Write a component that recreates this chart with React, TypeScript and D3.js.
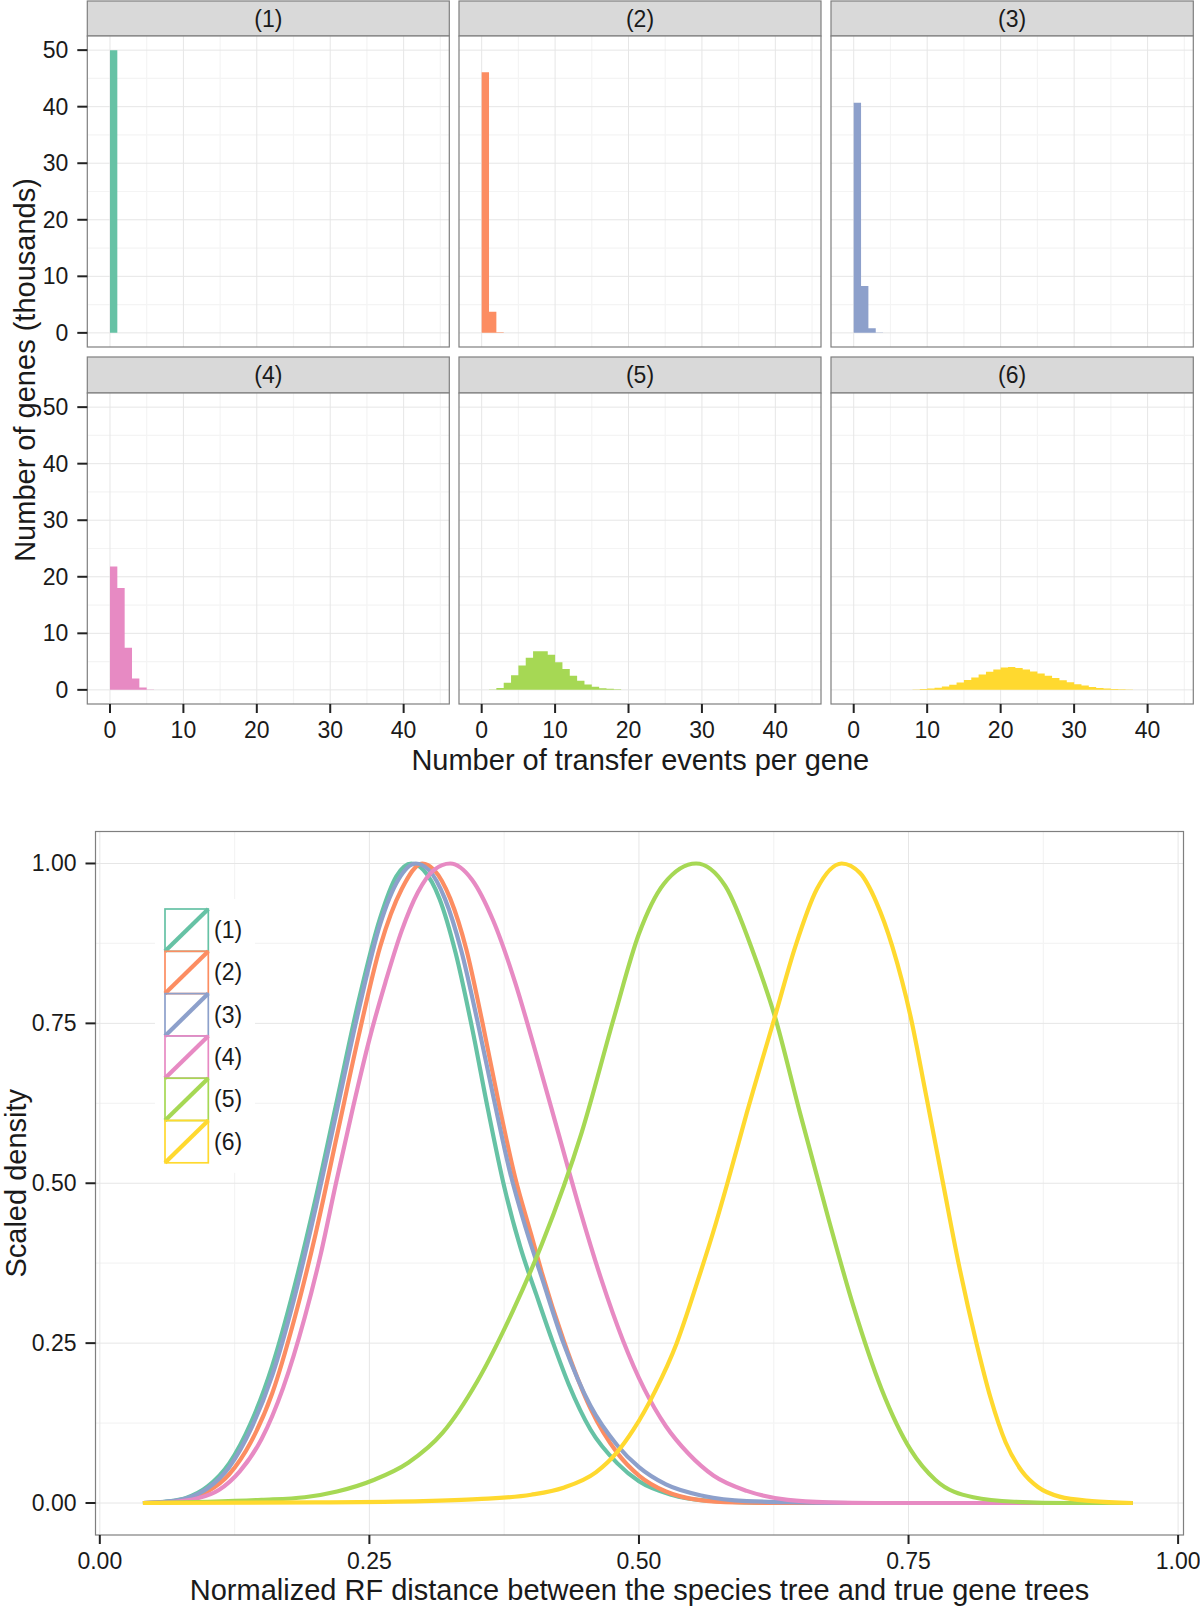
import React from 'react';
import * as d3 from 'd3';

// ---------- data ----------
const PANEL_LABELS = ['(1)', '(2)', '(3)', '(4)', '(5)', '(6)'];
const SERIES_COLORS = ['#66C2A5', '#FC8D62', '#8DA0CB', '#E78AC3', '#A6D854', '#FFD92F'];

// Number of genes (thousands) per bin [k, k+1), k = 0, 1, 2, ...
const HIST_1 = [50.0];
const HIST_2 = [46.1, 3.75, 0.12, 0.02];
const HIST_3 = [40.7, 8.3, 0.8, 0.07, 0.01];
const HIST_4 = [21.8, 18.0, 7.45, 2.0, 0.42, 0.08, 0.01];
const HIST_5 = [0.01, 0.06, 0.35, 1.24, 2.6, 4.3, 5.7, 6.85, 6.85, 6.2, 4.9, 3.7, 2.5, 1.6, 0.94, 0.53, 0.29, 0.18, 0.09, 0.04, 0.02, 0.01];
const HIST_6 = [0, 0, 0, 0, 0, 0.01, 0.02, 0.04, 0.08, 0.14, 0.22, 0.38, 0.6, 0.9, 1.3, 1.75, 2.2, 2.7, 3.2, 3.6, 3.95, 4.05, 3.85, 3.6, 3.25, 2.9, 2.5, 2.1, 1.7, 1.35, 1.0, 0.75, 0.52, 0.35, 0.23, 0.15, 0.09, 0.05, 0.03, 0.02, 0.01, 0.008, 0.006, 0.005, 0.004];

const HIST_X_TICKS = [0, 10, 20, 30, 40];
const HIST_Y_TICKS = [0, 10, 20, 30, 40, 50];

// Scaled density curves: [normalized RF distance, scaled density]
const DENSITY_1 = [[0.04, 0], [0.06, 0.002], [0.08, 0.008], [0.10, 0.026], [0.12, 0.062], [0.14, 0.125], [0.16, 0.215], [0.18, 0.335], [0.20, 0.475], [0.22, 0.63], [0.24, 0.785], [0.26, 0.915], [0.275, 0.98], [0.289, 1.0], [0.30, 0.99], [0.315, 0.945], [0.33, 0.86], [0.345, 0.745], [0.36, 0.615], [0.375, 0.495], [0.39, 0.4], [0.405, 0.325], [0.42, 0.252], [0.435, 0.185], [0.455, 0.115], [0.48, 0.062], [0.50, 0.034], [0.53, 0.013], [0.56, 0.004], [0.60, 0.001], [0.65, 0], [0.958, 0]];
const DENSITY_2 = [[0.04, 0], [0.06, 0.001], [0.08, 0.005], [0.10, 0.018], [0.12, 0.045], [0.14, 0.095], [0.16, 0.172], [0.18, 0.285], [0.20, 0.42], [0.22, 0.575], [0.24, 0.73], [0.26, 0.87], [0.28, 0.96], [0.299, 1.0], [0.31, 0.99], [0.325, 0.945], [0.34, 0.865], [0.355, 0.75], [0.37, 0.625], [0.385, 0.51], [0.40, 0.42], [0.41, 0.36], [0.43, 0.255], [0.455, 0.148], [0.48, 0.078], [0.50, 0.043], [0.525, 0.018], [0.555, 0.005], [0.59, 0.001], [0.65, 0], [0.958, 0]];
const DENSITY_3 = [[0.04, 0], [0.06, 0.002], [0.08, 0.007], [0.10, 0.023], [0.12, 0.056], [0.14, 0.115], [0.16, 0.2], [0.18, 0.318], [0.20, 0.46], [0.22, 0.615], [0.24, 0.77], [0.26, 0.905], [0.277, 0.975], [0.293, 1.0], [0.305, 0.99], [0.32, 0.945], [0.335, 0.865], [0.35, 0.755], [0.365, 0.635], [0.38, 0.52], [0.395, 0.43], [0.41, 0.352], [0.43, 0.25], [0.455, 0.152], [0.48, 0.09], [0.50, 0.056], [0.525, 0.029], [0.56, 0.011], [0.60, 0.003], [0.65, 0.001], [0.70, 0], [0.958, 0]];
const DENSITY_4 = [[0.04, 0], [0.07, 0.002], [0.09, 0.007], [0.11, 0.02], [0.13, 0.05], [0.15, 0.1], [0.17, 0.18], [0.19, 0.29], [0.205, 0.39], [0.219, 0.5], [0.235, 0.62], [0.25, 0.725], [0.265, 0.815], [0.28, 0.895], [0.295, 0.955], [0.31, 0.99], [0.325, 1.0], [0.345, 0.975], [0.365, 0.91], [0.385, 0.815], [0.405, 0.70], [0.425, 0.58], [0.445, 0.46], [0.465, 0.35], [0.485, 0.255], [0.505, 0.178], [0.525, 0.12], [0.546, 0.077], [0.569, 0.043], [0.60, 0.019], [0.638, 0.005], [0.676, 0.001], [0.72, 0], [0.958, 0]];
const DENSITY_5 = [[0.04, 0], [0.10, 0.002], [0.15, 0.005], [0.19, 0.009], [0.22, 0.018], [0.254, 0.036], [0.286, 0.063], [0.318, 0.11], [0.35, 0.19], [0.383, 0.3], [0.41, 0.405], [0.447, 0.58], [0.477, 0.76], [0.50, 0.89], [0.523, 0.968], [0.553, 1.0], [0.58, 0.965], [0.607, 0.856], [0.626, 0.761], [0.649, 0.612], [0.676, 0.443], [0.699, 0.307], [0.725, 0.178], [0.752, 0.083], [0.775, 0.036], [0.81, 0.009], [0.848, 0.002], [0.90, 0], [0.958, 0]];
const DENSITY_6 = [[0.04, 0], [0.2, 0.001], [0.3, 0.003], [0.35, 0.006], [0.40, 0.013], [0.43, 0.024], [0.46, 0.048], [0.48, 0.08], [0.495, 0.115], [0.515, 0.175], [0.535, 0.25], [0.555, 0.35], [0.57, 0.43], [0.582, 0.5], [0.60, 0.61], [0.626, 0.76], [0.645, 0.87], [0.665, 0.96], [0.688, 1.0], [0.705, 0.985], [0.72, 0.94], [0.735, 0.87], [0.752, 0.76], [0.766, 0.64], [0.782, 0.5], [0.797, 0.37], [0.813, 0.25], [0.826, 0.165], [0.84, 0.095], [0.855, 0.05], [0.87, 0.025], [0.89, 0.01], [0.92, 0.003], [0.958, 0]];

const DENS_X_TICKS = [0, 0.25, 0.5, 0.75, 1];
const DENS_X_LABELS = ['0.00', '0.25', '0.50', '0.75', '1.00'];
const DENS_Y_TICKS = [0, 0.25, 0.5, 0.75, 1];
const DENS_Y_LABELS = ['0.00', '0.25', '0.50', '0.75', '1.00'];

const HISTS = [HIST_1, HIST_2, HIST_3, HIST_4, HIST_5, HIST_6];
const DENSITIES = [DENSITY_1, DENSITY_2, DENSITY_3, DENSITY_4, DENSITY_5, DENSITY_6];

const FONT = '"Liberation Sans", Arial, Helvetica, sans-serif';
const TXT = '#1a1a1a';
const BORDER = '#7f7f7f';
const GRID_MAJOR = '#e6e6e6';
const GRID_MINOR = '#f4f4f4';

function HistPanel({ idx, x0, x1, stripTop, top, bottom, showX, showY }) {
  const xs = d3.scaleLinear().domain([-3.09, 46.22]).range([x0, x1]);
  const ys = d3.scaleLinear().domain([-2.5, 52.5]).range([bottom, top]);
  const data = HISTS[idx];
  const pts = data.map((v, i) => [i, v]);
  pts.push([data.length, data[data.length - 1]]);
  const area = d3.area().x(d => xs(d[0])).y0(ys(0)).y1(d => ys(d[1])).curve(d3.curveStepAfter);
  const minorX = d3.range(5, 50, 10);
  const minorY = d3.range(5, 50, 10);
  return (
    <g>
      <rect x={x0} y={stripTop} width={x1 - x0} height={top - stripTop} fill="#d9d9d9" stroke={BORDER} strokeWidth={1.2} />
      <text x={(x0 + x1) / 2} y={(stripTop + top) / 2 + 8} textAnchor="middle" fontSize={23} fontFamily={FONT} fill={TXT}>{PANEL_LABELS[idx]}</text>
      <rect x={x0} y={top} width={x1 - x0} height={bottom - top} fill="#fff" />
      {minorX.map(v => <line key={'mx' + v} x1={xs(v)} x2={xs(v)} y1={top} y2={bottom} stroke={GRID_MINOR} strokeWidth={1.2} />)}
      {minorY.map(v => <line key={'my' + v} x1={x0} x2={x1} y1={ys(v)} y2={ys(v)} stroke={GRID_MINOR} strokeWidth={1.2} />)}
      {HIST_X_TICKS.map(v => <line key={'gx' + v} x1={xs(v)} x2={xs(v)} y1={top} y2={bottom} stroke={GRID_MAJOR} strokeWidth={1} />)}
      {HIST_Y_TICKS.map(v => <line key={'gy' + v} x1={x0} x2={x1} y1={ys(v)} y2={ys(v)} stroke={GRID_MAJOR} strokeWidth={1} />)}
      <path d={area(pts)} fill={SERIES_COLORS[idx]} />
      <rect x={x0} y={top} width={x1 - x0} height={bottom - top} fill="none" stroke={BORDER} strokeWidth={1.2} />
      {showX && HIST_X_TICKS.map(v => (
        <g key={'tx' + v}>
          <line x1={xs(v)} x2={xs(v)} y1={bottom} y2={bottom + 9} stroke="#222" strokeWidth={2} />
          <text x={xs(v)} y={bottom + 34} textAnchor="middle" fontSize={23} fontFamily={FONT} fill={TXT}>{v}</text>
        </g>
      ))}
      {showY && HIST_Y_TICKS.map(v => (
        <g key={'ty' + v}>
          <line x1={x0 - 10} x2={x0} y1={ys(v)} y2={ys(v)} stroke="#222" strokeWidth={2} />
          <text x={x0 - 19} y={ys(v) + 8} textAnchor="end" fontSize={23} fontFamily={FONT} fill={TXT}>{v}</text>
        </g>
      ))}
    </g>
  );
}

export default function App() {
  const W = 1200, H = 1607;
  const cols = [[87.3, 449.3], [459, 821], [831, 1193.3]];
  const rows = [{ s: 1, t: 36, b: 347 }, { s: 357, t: 393, b: 704 }];

  // density panel
  const dx0 = 95.5, dx1 = 1183.5, dt = 831.5, db = 1535;
  const xs = d3.scaleLinear().domain([-0.004, 1.005]).range([dx0, dx1]);
  const ys = d3.scaleLinear().domain([-0.05, 1.05]).range([db, dt]);
  const line = d3.line().x(d => xs(d[0])).y(d => ys(d[1])).curve(d3.curveMonotoneX);
  const minorDX = [0.125, 0.375, 0.625, 0.875];
  const minorDY = [0.125, 0.375, 0.625, 0.875];

  const legX = 165, legY = 909, legW = 43.3, legH = 42.3;

  return (
    <svg width={W} height={H} viewBox={`0 0 ${W} ${H}`} style={{ position: 'absolute', left: 0, top: 0, background: '#fff' }}>
      <rect x={0} y={0} width={W} height={H} fill="#fff" />
      {/* facetted histograms */}
      {PANEL_LABELS.map((lab, i) => {
        const r = rows[Math.floor(i / 3)];
        const c = cols[i % 3];
        return <HistPanel key={lab} idx={i} x0={c[0]} x1={c[1]} stripTop={r.s} top={r.t} bottom={r.b} showX={i >= 3} showY={i % 3 === 0} />;
      })}
      <text x={(87.3 + 1193.3) / 2} y={770} textAnchor="middle" fontSize={29} fontFamily={FONT} fill={TXT}>Number of transfer events per gene</text>
      <text transform={`translate(35, 370) rotate(-90)`} textAnchor="middle" fontSize={29} fontFamily={FONT} fill={TXT}>Number of genes (thousands)</text>

      {/* density plot */}
      <rect x={dx0} y={dt} width={dx1 - dx0} height={db - dt} fill="#fff" />
      {minorDX.map(v => <line key={'dmx' + v} x1={xs(v)} x2={xs(v)} y1={dt} y2={db} stroke={GRID_MINOR} strokeWidth={1.2} />)}
      {minorDY.map(v => <line key={'dmy' + v} x1={dx0} x2={dx1} y1={ys(v)} y2={ys(v)} stroke={GRID_MINOR} strokeWidth={1.2} />)}
      {DENS_X_TICKS.map(v => <line key={'dgx' + v} x1={xs(v)} x2={xs(v)} y1={dt} y2={db} stroke={GRID_MAJOR} strokeWidth={1} />)}
      {DENS_Y_TICKS.map(v => <line key={'dgy' + v} x1={dx0} x2={dx1} y1={ys(v)} y2={ys(v)} stroke={GRID_MAJOR} strokeWidth={1} />)}
      {DENSITIES.map((d, i) => (
        <path key={'dl' + i} d={line(d)} fill="none" stroke={SERIES_COLORS[i]} strokeWidth={4.2} strokeLinejoin="round" />
      ))}
      {/* legend */}
      <rect x={legX - 10} y={legY - 10} width={100} height={legH * 6 + 20} fill="#fff" />
      {PANEL_LABELS.map((lab, i) => {
        const y = legY + i * legH;
        return (
          <g key={'lg' + i}>
            <rect x={legX} y={y} width={legW} height={legH} fill="none" stroke={SERIES_COLORS[i]} strokeWidth={1.7} />
            <line x1={legX} y1={y + legH} x2={legX + legW} y2={y} stroke={SERIES_COLORS[i]} strokeWidth={4.2} />
            <text x={legX + 49} y={y + legH / 2 + 8} fontSize={23} fontFamily={FONT} fill={TXT}>{lab}</text>
          </g>
        );
      })}
      <rect x={dx0} y={dt} width={dx1 - dx0} height={db - dt} fill="none" stroke={BORDER} strokeWidth={1.2} />
      {DENS_X_TICKS.map((v, i) => (
        <g key={'dtx' + v}>
          <line x1={xs(v)} x2={xs(v)} y1={db} y2={db + 9} stroke="#222" strokeWidth={2} />
          <text x={xs(v)} y={1569} textAnchor="middle" fontSize={23} fontFamily={FONT} fill={TXT}>{DENS_X_LABELS[i]}</text>
        </g>
      ))}
      {DENS_Y_TICKS.map((v, i) => (
        <g key={'dty' + v}>
          <line x1={dx0 - 10} x2={dx0} y1={ys(v)} y2={ys(v)} stroke="#222" strokeWidth={2} />
          <text x={dx0 - 19} y={ys(v) + 8} textAnchor="end" fontSize={23} fontFamily={FONT} fill={TXT}>{DENS_Y_LABELS[i]}</text>
        </g>
      ))}
      <text x={(dx0 + dx1) / 2} y={1600} textAnchor="middle" fontSize={29} fontFamily={FONT} fill={TXT}>Normalized RF distance between the species tree and true gene trees</text>
      <text transform={`translate(26, ${(dt + db) / 2}) rotate(-90)`} textAnchor="middle" fontSize={29} fontFamily={FONT} fill={TXT}>Scaled density</text>
    </svg>
  );
}
